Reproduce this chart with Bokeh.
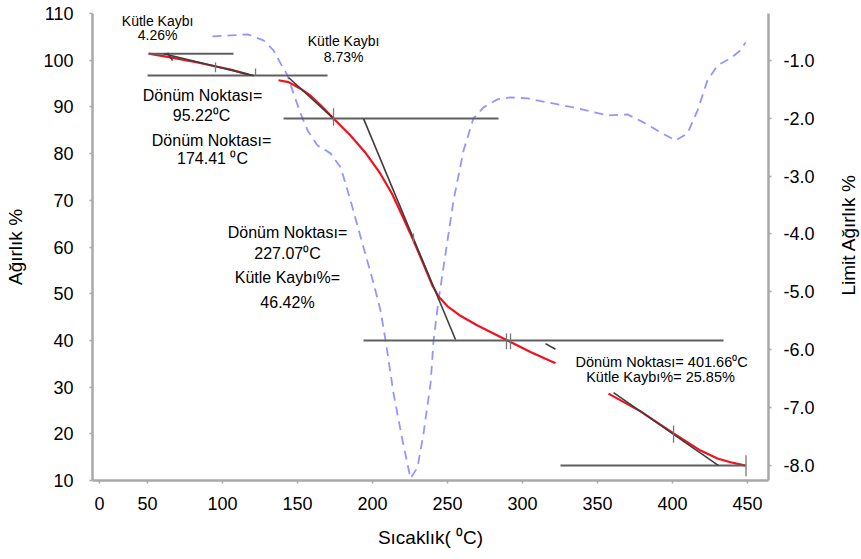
import math
from bokeh.plotting import figure
from bokeh.layouts import row
from bokeh.models import Range1d, LinearAxis, FixedTicker, NumeralTickFormatter
from bokeh.core.properties import value
from bokeh.embed import file_html
from bokeh.resources import INLINE

nan = float("nan")

# TGA curve (weight %, left axis)
tga_temp = [50.7, 65.3, 83.3, 105.3, 117.3, nan,
            137.3, 144.0, 152.0, 158.7, 165.3, 174.0, 185.0, 195.0, 205.0, 213.0, 220.0, 227.3,
            234.0, 240.0, 244.0, 250.0, 258.0, 270.0, 287.3, 305.3, 322.0, nan,
            357.3, 378.7, 400.7, 418.7, 430.0, 438.7, 448.7]
tga_weight = [101.4, 100.6, 99.5, 98.0, 96.9, nan,
              95.7, 95.3, 93.9, 92.4, 90.4, 87.5, 84.0, 80.3, 75.8, 71.4, 66.6, 61.4,
              56.3, 51.7, 49.4, 47.3, 45.4, 43.2, 40.4, 37.5, 35.1, nan,
              28.6, 24.8, 20.1, 16.4, 14.7, 13.9, 13.2]

# DTG curve (right axis)
dtg_temp = [93.3, 105.3, 116.7, 127.3, 134, 138.7, 143.3, 147.3, 152, 156.7, 163.3, 172, 178.7, 182,
            185.3, 194, 200.7, 205.3, 208.7, 214, 220, 225.3, 230, 234, 238.7, 240.7, 244, 247.3,
            254, 260.7, 267.3, 274, 283.3, 292, 303.3, 316.7, 334, 356.7, 370, 380.7, 392, 402,
            410, 416.7, 423.3, 430, 438.7, 445.3, 448.7]
dtg_value = [-0.585, -0.568, -0.551, -0.654, -0.827, -1.052, -1.259, -1.570, -1.916, -2.210, -2.469,
             -2.607, -2.849, -3.126, -3.420, -4.232, -4.854, -5.321, -5.839, -6.755, -7.568, -8.224,
             -8.034, -7.447, -6.582, -5.839, -5.148, -4.578, -3.420, -2.555, -2.002, -1.812, -1.674,
             -1.639, -1.657, -1.726, -1.812, -1.951, -1.933, -2.072, -2.244, -2.383, -2.262, -1.864,
             -1.346, -1.086, -0.965, -0.827, -0.689]

# baseline (horizontal) construction lines
base_x = [[50.7, 107.3], [50.0, 170.0], [140.7, 284.0], [194.0, 434.0], [325.3, 448.7]]
base_y = [[101.4, 101.4], [96.7, 96.7], [87.5, 87.5], [40.0, 40.0], [13.2, 13.2]]

# tangent construction lines
tan_x = [[60.7, 120.7], [144.0, 174.0], [194.0, 255.3], [360.7, 430.7], [315.3, 322.0], [63.3, 66.7]]
tan_y = [[101.4, 96.7], [96.3, 87.5], [87.5, 40.2], [28.8, 13.2], [39.3, 38.1], [101.6, 99.9]]

# small marker ticks
mark_x = [[95.3, 95.3], [122.0, 122.0], [174.0, 174.0], [227.3, 227.3], [289.3, 289.3],
          [292.0, 292.0], [400.7, 400.7], [449.0, 449.0]]
mark_y = [[97.4, 99.5], [96.7, 98.2], [86.0, 89.7], [60.7, 62.9], [38.1, 41.5],
          [38.1, 41.5], [18.1, 21.8], [10.9, 15.4]]

x_ticks = [18, 50, 100, 150, 200, 250, 300, 350, 400, 450]
x_tick_labels = ["0", "50", "100", "150", "200", "250", "300", "350", "400", "450"]
y_ticks = [10, 20, 30, 40, 50, 60, 70, 80, 90, 100, 110]
y2_ticks = [-8, -7, -6, -5, -4, -3, -2, -1]

x_title = "Sıcaklık( ⁰C)"
y_title = "Ağırlık %"
y2_title = "Limit Ağırlık %"

# annotation texts
ann_small_text = ["Kütle Kaybı", "4.26%", "Kütle Kaybı", "8.73%"]
ann_small_x = [56.7, 56.7, 180.7, 180.7]
ann_small_y = [108.5, 105.3, 104.2, 100.6]

ann_big_text = ["Dönüm Noktası=", "95.22⁰C", "Dönüm Noktası=", "174.41 ⁰C",
                "Dönüm Noktası=", "227.07⁰C", "Kütle Kaybı%=", "46.42%"]
ann_big_x = [86.7, 86.0, 92.7, 93.3, 143.3, 143.3, 143.3, 143.3]
ann_big_y = [92.4, 88.2, 82.8, 79.0, 63.1, 58.6, 53.5, 48.1]

ann_mid_text = ["Dönüm Noktası= 401.66⁰C", "Kütle Kaybı%= 25.85%"]
ann_mid_x = [392.7, 392.0]
ann_mid_y = [35.3, 32.1]

FONT = "Liberation Sans"
AXIS_COL = "#a9a9a9"

p = figure(width=830, height=559, x_range=Range1d(13.3, 464), y_range=Range1d(10, 110),
           output_backend="svg", toolbar_location=None,
           min_border_left=92, min_border_right=62, min_border_top=13, min_border_bottom=79)
p.extra_y_ranges = {"dtg": Range1d(-8.26, -0.19)}
p.outline_line_color = None
p.background_fill_color = "white"
p.border_fill_color = "white"
p.xgrid.visible = False
p.ygrid.visible = False

bottom_axis = p.xaxis[0]
left_axis = p.yaxis[0]

bottom_axis.ticker = FixedTicker(ticks=x_ticks)
bottom_axis.major_label_overrides = {t: l for t, l in zip(x_ticks, x_tick_labels)}
left_axis.ticker = FixedTicker(ticks=y_ticks)

right_axis = LinearAxis(y_range_name="dtg", ticker=FixedTicker(ticks=y2_ticks),
                        formatter=NumeralTickFormatter(format="0.0"))
p.add_layout(right_axis, "right")

bottom_axis.axis_label = x_title
left_axis.axis_label = y_title

for ax in [bottom_axis, left_axis, right_axis]:
    ax.axis_line_color = AXIS_COL
    ax.axis_line_width = 2.5
    ax.major_tick_line_color = AXIS_COL
    ax.major_tick_line_width = 1.5
    ax.major_tick_out = 3
    ax.major_tick_in = 0
    ax.minor_tick_line_color = None
    ax.major_label_text_font = FONT
    ax.major_label_text_font_size = "18px"
    ax.major_label_text_color = "black"
    ax.axis_label_text_font = FONT
    ax.axis_label_text_font_size = "19px"
    ax.axis_label_text_font_style = "normal"
    ax.axis_label_text_color = "black"

bottom_axis.major_label_standoff = 13
bottom_axis.axis_label_standoff = 14
left_axis.major_label_standoff = 16
left_axis.axis_label_standoff = 14
right_axis.major_label_standoff = 12

# curves
p.line(dtg_temp, dtg_value, y_range_name="dtg", line_color="#8a8aff", line_width=1.8,
       line_dash="9 6", line_alpha=0.9)
p.line(tga_temp, tga_weight, line_color="#f5101e", line_width=2.2, line_join="round")

# construction lines
p.multi_line(base_x, base_y, line_color="#5f5f5f", line_width=2)
p.multi_line(tan_x, tan_y, line_color="#3d3d3d", line_width=1.6)
p.multi_line(mark_x, mark_y, line_color="#777777", line_width=1.3)

# annotations
p.text(ann_small_x, ann_small_y, text=ann_small_text, text_font=value(FONT),
       text_font_size="14px", text_align="center", text_baseline="middle", text_color="black")
p.text(ann_big_x, ann_big_y, text=ann_big_text, text_font=value(FONT),
       text_font_size="16px", text_align="center", text_baseline="middle", text_color="black")
p.text(ann_mid_x, ann_mid_y, text=ann_mid_text, text_font=value(FONT),
       text_font_size="14.5px", text_align="center", text_baseline="middle", text_color="black")

# right-hand axis title panel
p2 = figure(width=31, height=559, x_range=Range1d(0, 1), y_range=Range1d(0, 1),
            output_backend="svg", toolbar_location=None, min_border=0)
p2.axis.visible = False
p2.xgrid.visible = False
p2.ygrid.visible = False
p2.outline_line_color = None
p2.border_fill_color = "white"
p2.background_fill_color = "white"
p2.text([0.58], [1 - 265 / 559], text=[y2_title], angle=math.pi / 2, text_font=value(FONT),
        text_font_size="19px", text_align="center", text_baseline="middle", text_color="black")

layout = row(p, p2, spacing=0)
open("out.html", "w").write(file_html(layout, INLINE))
